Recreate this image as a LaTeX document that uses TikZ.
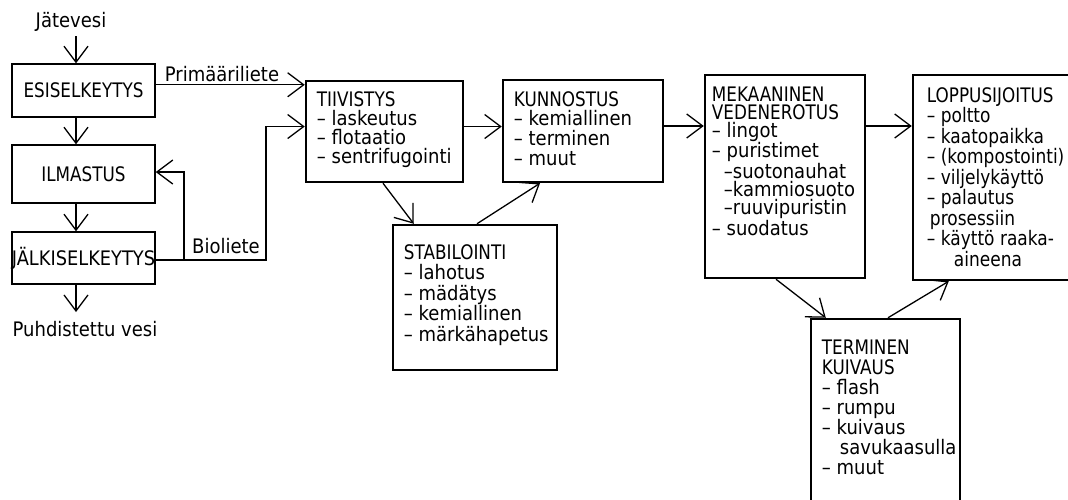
\documentclass[tikz,border=0pt]{standalone}
\usepackage{fontspec}
\setmainfont[FakeStretch=0.9]{DejaVu Sans}
\newfontfamily\cond[FakeStretch=0.84]{DejaVu Sans}
\newfontfamily\jcond[FakeStretch=0.89]{DejaVu Sans}
\newfontfamily\lopf[FakeStretch=0.85]{DejaVu Sans}
\usetikzlibrary{arrows.meta,calc}
\begin{document}
\begin{tikzpicture}[x=1pt,y=-1pt,
  font=\fontsize{20}{20}\selectfont,
  arr/.style={-{Straight Barb[length=16pt,width=24pt]},line width=1.3pt},
  lbox/.style={draw,line width=1.5pt,inner sep=0pt,font=\fontsize{20}{20}\selectfont\cond},
  bbox/.style={draw,line width=2.5pt,inner sep=0pt},
  txt/.style={anchor=north west,inner sep=0pt,align=left},
  lbl/.style={inner sep=0pt}]
\useasboundingbox (0,0) rectangle (1068,499);
\clip (0,0) rectangle (1068,499);

% left column
\node[lbox,minimum width=143pt,minimum height=53pt] (esi) at (83.5,90.5) {ESISELKEYTYS};
\node[lbox,minimum width=143pt,minimum height=58pt] (ilm) at (83.5,174) {ILMASTUS};
\node[lbox,minimum width=143pt,minimum height=52pt,font=\fontsize{20}{20}\selectfont\jcond] (jal) at (83.5,258) {JÄLKISELKEYTYS};
\node[lbl] (jat) at (71,22) {Jätevesi};
\node[lbl] (out) at (85,329) {Puhdistettu vesi};
\coordinate (jin) at (76,36);

% big boxes
\node[bbox,minimum width=157pt,minimum height=101pt] (tii) at (384.5,131.5) {};
\node[bbox,minimum width=160pt,minimum height=102pt] (kun) at (583,131) {};
\node[bbox,minimum width=164pt,minimum height=145pt] (sta) at (475,297.5) {};
\node[bbox,minimum width=160pt,minimum height=203pt] (mek) at (785,176.5) {};
\node[bbox,minimum width=162pt,minimum height=205pt] (lop) at (994,177.5) {};
\node[bbox,minimum width=149pt,minimum height=196pt] (ter) at (885.5,417) {};

% texts in boxes
\node[txt,font=\fontsize{20}{19}\selectfont] (tiit) at ($(tii.north west)+(12,11.5)$)
  {{\cond TIIVISTYS}\\– laskeutus\\– flotaatio\\– sentrifugointi};
\node[txt,font=\fontsize{20}{19.7}\selectfont] (kunt) at ($(kun.north west)+(12,12.5)$)
  {{\cond KUNNOSTUS}\\– kemiallinen\\– terminen\\– muut};
\node[txt,font=\fontsize{20}{20.5}\selectfont] (stat) at ($(sta.north west)+(12,20.5)$)
  {{\cond STABILOINTI}\\– lahotus\\– mädätys\\– kemiallinen\\– märkähapetus};
\node[txt,font=\fontsize{20}{18.3}\selectfont] (mekt) at ($(mek.north west)+(8,12.5)$)
  {{\cond MEKAANINEN}\\{\cond VEDENEROTUS}\\– lingot\\– puristimet\\\hspace*{12pt}–suotonauhat\\\hspace*{12pt}–kammiosuoto\\\hspace*{12pt}–ruuvipuristin\\– suodatus};
\node[txt,font=\fontsize{20}{20.5}\selectfont\lopf] (lopt) at ($(lop.north west)+(15,13.5)$)
  {{\cond LOPPUSIJOITUS}\\– poltto\\– kaatopaikka\\– (kompostointi)\\– viljelykäyttö\\– palautus\\\hspace*{3pt}prosessiin\\– käyttö raaka-\\\hspace*{27pt}aineena};
\node[txt,font=\fontsize{20}{20}\selectfont] (tert) at ($(ter.north west)+(12,21.5)$)
  {{\cond TERMINEN}\\{\cond KUIVAUS}\\– flash\\– rumpu\\– kuivaus\\\hspace*{18pt}savukaasulla\\– muut};

% left column connectors
\draw[arr] (jin) -- (jin |- esi.north);
\draw[arr] (jin |- esi.south) -- (jin |- ilm.north);
\draw[arr] (jin |- ilm.south) -- (jin |- jal.north);
\draw[arr] (jin |- jal.south) -- ($(jin |- out.north)+(0,-9)$);

% sludge lines
\coordinate (pa) at ($(tii.north west)+(0,5)$);
\draw[arr] (esi.east |- pa) -- (pa);
\node[lbl] (pl) at (222,74) {Primääriliete};

\coordinate (pb) at ($(tii.west)+(0,-5)$);
\coordinate (bs) at ($(jal.east)+(0,2)$);
\coordinate (bj) at ($(bs)+(28,0)$);
\coordinate (bk) at ($(bs)+(110,0)$);
\draw[arr] (bs) -- (bk) |- (pb);
\draw[arr] (bj) |- ($(ilm.east)+(0,-2)$);
\node[lbl] (bl) at (226,246) {Bioliete};

% main chain
\coordinate (pc) at ($(tii.east)+(0,-5)$);
\draw[arr] (pc) -- (pc -| kun.west);
\draw[arr] ($(tii.south)+(-1.5,0)$) -- ($(sta.north west)+(22,0)$);
\draw[arr] ($(sta.north)+(2,0)$) -- ($(kun.south)+(-43,0)$);
\coordinate (pd) at ($(kun.east)+(0,-5)$);
\draw[arr] (pd) -- (pd -| mek.west);
\draw[arr] (pd -| mek.east) -- (pd -| lop.west);
\draw[arr] ($(mek.south)+(-9,0)$) -- ($(ter.north west)+(16,0)$);
\draw[arr] ($(ter.north)+(2.5,0)$) -- ($(lop.south west)+(37,0)$);
\end{tikzpicture}
\end{document}
